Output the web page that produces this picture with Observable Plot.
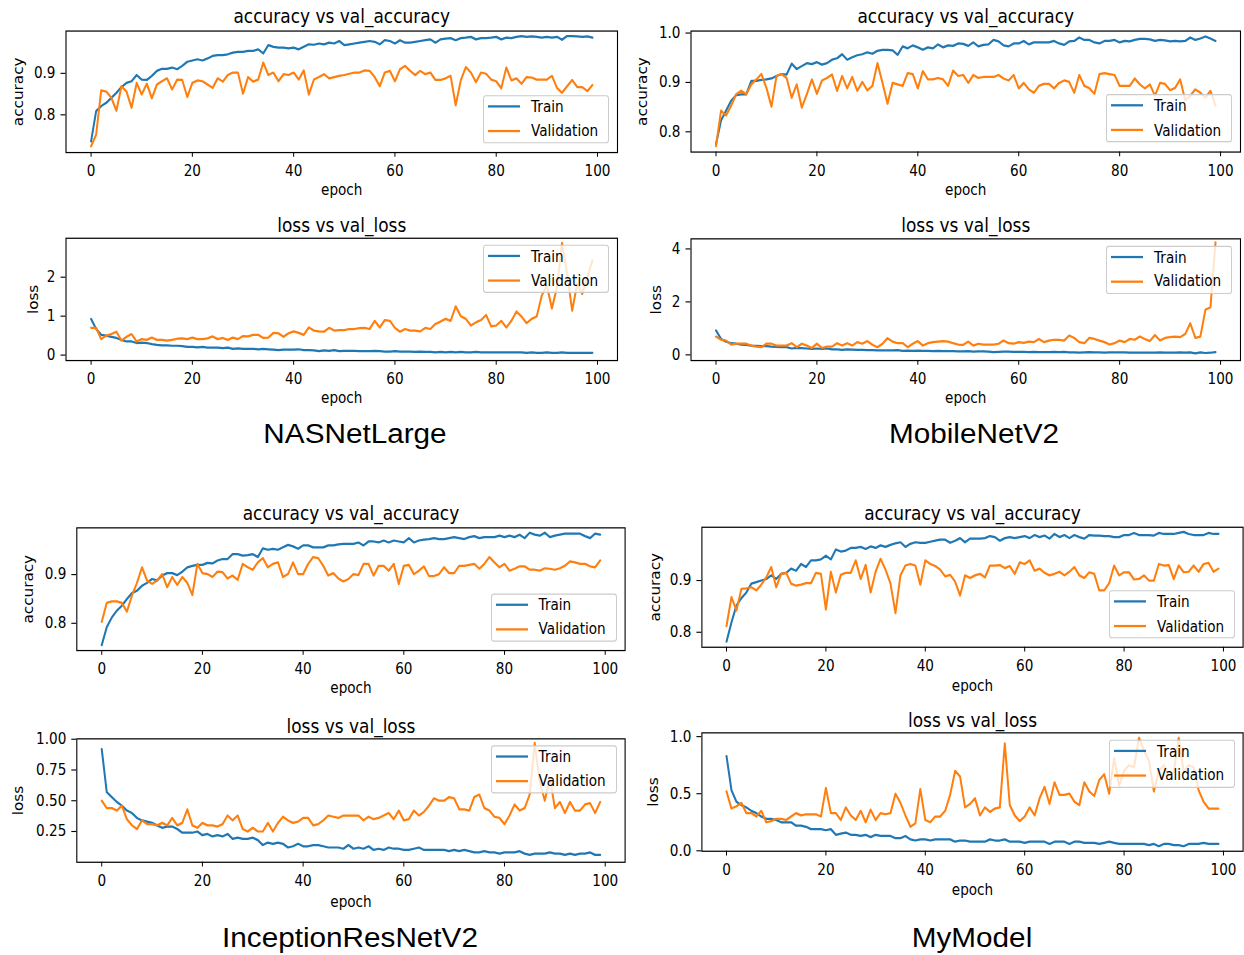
<!DOCTYPE html>
<html><head><meta charset="utf-8">
<script src="https://cdn.jsdelivr.net/npm/d3@7"></script>
<script src="https://cdn.jsdelivr.net/npm/@observablehq/plot@0.6"></script>
<style>
body{margin:0;background:#fff;width:1244px;height:955px;position:relative;overflow:hidden;font-family:"DejaVu Sans",sans-serif;}
.sub{position:absolute;}
.wrap{position:absolute;left:0;top:0;transform-origin:0 0;}
.leg{position:absolute;box-sizing:border-box;border:1px solid #cccccc;border-radius:3px;background:rgba(255,255,255,0.8);}
.leg .ln{position:absolute;}
.leg .lt{position:absolute;font-family:"DejaVu Sans";font-size:13.6px;line-height:1;color:#000;white-space:nowrap;}
.cap{position:absolute;font-family:"Liberation Sans",Arial,sans-serif;font-size:27px;color:#000;white-space:nowrap;}
</style></head><body>
<script>
// ---------------- data ----------------
const xTicks = [0, 20, 40, 60, 80, 100];
const seriesNames = ["Train", "Validation"];
const captions = ["NASNetLarge", "MobileNetV2", "InceptionResNetV2", "MyModel"];

const nasAccTrain = [0.736,0.809,0.821,0.829,0.841,0.853,0.867,0.877,0.881,0.896,
0.885,0.884,0.894,0.906,0.911,0.911,0.914,0.910,0.918,0.928,
0.931,0.934,0.931,0.936,0.942,0.944,0.944,0.946,0.950,0.952,
0.952,0.954,0.954,0.958,0.948,0.968,0.964,0.962,0.962,0.960,
0.962,0.958,0.964,0.970,0.969,0.972,0.970,0.974,0.972,0.978,
0.968,0.970,0.972,0.974,0.976,0.978,0.976,0.970,0.980,0.978,
0.972,0.980,0.974,0.974,0.976,0.978,0.980,0.982,0.974,0.982,
0.984,0.985,0.980,0.985,0.986,0.988,0.982,0.985,0.985,0.986,
0.988,0.982,0.986,0.985,0.988,0.990,0.988,0.989,0.988,0.986,
0.988,0.986,0.988,0.981,0.990,0.990,0.989,0.988,0.989,0.986];
const nasAccVal = [0.724,0.752,0.859,0.856,0.841,0.810,0.869,0.856,0.817,0.877,
0.849,0.875,0.840,0.873,0.881,0.888,0.861,0.885,0.884,0.843,
0.877,0.883,0.881,0.873,0.865,0.888,0.880,0.896,0.902,0.902,
0.851,0.891,0.880,0.885,0.926,0.896,0.902,0.881,0.898,0.896,
0.902,0.885,0.907,0.849,0.885,0.891,0.898,0.888,0.891,0.894,
0.896,0.899,0.902,0.902,0.907,0.906,0.891,0.869,0.902,0.906,
0.881,0.910,0.918,0.906,0.896,0.906,0.898,0.902,0.884,0.884,
0.888,0.894,0.823,0.883,0.915,0.902,0.879,0.902,0.899,0.885,
0.881,0.864,0.914,0.883,0.888,0.875,0.891,0.890,0.885,0.885,
0.885,0.894,0.865,0.853,0.869,0.884,0.867,0.867,0.857,0.872];
const nasLossTrain = [0.93,0.67,0.52,0.50,0.47,0.44,0.39,0.35,0.35,0.31,
0.32,0.31,0.28,0.26,0.25,0.25,0.24,0.24,0.23,0.21,
0.21,0.20,0.21,0.19,0.19,0.19,0.18,0.19,0.16,0.17,
0.16,0.16,0.16,0.15,0.16,0.15,0.14,0.13,0.14,0.14,
0.14,0.15,0.13,0.13,0.12,0.10,0.12,0.11,0.13,0.10,
0.11,0.11,0.11,0.10,0.10,0.10,0.11,0.10,0.09,0.09,
0.10,0.09,0.09,0.09,0.08,0.09,0.08,0.08,0.07,0.08,
0.07,0.08,0.07,0.08,0.07,0.07,0.08,0.07,0.07,0.07,
0.07,0.07,0.07,0.07,0.07,0.07,0.06,0.07,0.06,0.06,
0.07,0.06,0.06,0.07,0.06,0.06,0.06,0.06,0.06,0.06];
const nasLossVal = [0.70,0.70,0.41,0.50,0.54,0.60,0.37,0.47,0.54,0.35,
0.41,0.39,0.45,0.39,0.39,0.37,0.39,0.42,0.43,0.41,
0.45,0.41,0.41,0.43,0.48,0.41,0.44,0.39,0.45,0.41,
0.49,0.48,0.52,0.52,0.44,0.45,0.57,0.56,0.47,0.56,
0.61,0.57,0.52,0.71,0.63,0.61,0.60,0.70,0.63,0.64,
0.64,0.67,0.67,0.69,0.70,0.67,0.88,0.71,0.90,0.88,
0.70,0.60,0.67,0.63,0.63,0.61,0.70,0.67,0.80,0.86,
0.93,0.88,1.25,1.00,0.93,0.76,0.84,0.90,1.03,0.74,
0.76,0.88,0.71,0.88,1.12,0.99,0.82,0.93,0.99,1.53,
1.79,1.20,1.74,2.88,2.09,1.14,1.83,1.57,2.00,2.43];

const mobAccTrain = [0.775,0.823,0.843,0.863,0.874,0.876,0.876,0.903,0.903,0.905,
0.906,0.908,0.913,0.917,0.916,0.938,0.927,0.933,0.939,0.937,
0.941,0.936,0.939,0.946,0.949,0.957,0.946,0.951,0.955,0.957,
0.961,0.958,0.964,0.966,0.966,0.965,0.956,0.973,0.969,0.975,
0.971,0.966,0.971,0.969,0.977,0.971,0.975,0.974,0.979,0.978,
0.974,0.981,0.973,0.976,0.977,0.986,0.983,0.975,0.973,0.979,
0.979,0.984,0.977,0.981,0.981,0.981,0.981,0.984,0.979,0.976,
0.983,0.984,0.991,0.986,0.986,0.981,0.979,0.984,0.984,0.986,
0.981,0.984,0.983,0.986,0.988,0.988,0.987,0.984,0.986,0.985,
0.983,0.984,0.983,0.984,0.991,0.986,0.989,0.993,0.989,0.984];
const mobAccVal = [0.771,0.843,0.833,0.853,0.876,0.883,0.876,0.896,0.906,0.917,
0.889,0.851,0.913,0.917,0.909,0.869,0.896,0.849,0.876,0.906,
0.877,0.904,0.909,0.916,0.883,0.913,0.888,0.911,0.883,0.901,
0.884,0.893,0.939,0.899,0.857,0.899,0.896,0.893,0.919,0.917,
0.888,0.923,0.906,0.906,0.909,0.906,0.893,0.924,0.913,0.915,
0.899,0.915,0.909,0.911,0.911,0.911,0.915,0.908,0.904,0.915,
0.888,0.899,0.886,0.879,0.893,0.897,0.897,0.888,0.899,0.904,
0.901,0.879,0.915,0.893,0.888,0.877,0.917,0.919,0.917,0.915,
0.893,0.893,0.893,0.908,0.896,0.888,0.896,0.873,0.899,0.897,
0.884,0.889,0.906,0.864,0.873,0.886,0.879,0.869,0.883,0.853];
const mobLossTrain = [0.92,0.60,0.50,0.44,0.42,0.39,0.38,0.35,0.34,0.33,
0.33,0.31,0.30,0.29,0.29,0.24,0.26,0.25,0.24,0.23,
0.24,0.23,0.24,0.21,0.21,0.19,0.21,0.20,0.19,0.19,
0.18,0.18,0.17,0.17,0.17,0.17,0.18,0.15,0.16,0.15,
0.16,0.15,0.15,0.14,0.15,0.14,0.14,0.14,0.13,0.13,
0.14,0.12,0.13,0.13,0.12,0.10,0.11,0.12,0.12,0.11,
0.11,0.11,0.10,0.11,0.10,0.10,0.10,0.11,0.10,0.11,
0.09,0.09,0.08,0.09,0.10,0.09,0.09,0.08,0.09,0.09,
0.09,0.09,0.08,0.08,0.08,0.08,0.08,0.08,0.09,0.08,
0.08,0.08,0.09,0.08,0.09,0.06,0.09,0.07,0.08,0.10];
const mobLossVal = [0.69,0.57,0.54,0.39,0.42,0.42,0.42,0.35,0.31,0.29,
0.42,0.42,0.35,0.35,0.35,0.44,0.29,0.42,0.35,0.26,
0.42,0.26,0.31,0.31,0.44,0.35,0.44,0.35,0.48,0.42,
0.52,0.38,0.29,0.42,0.63,0.50,0.44,0.44,0.29,0.42,
0.52,0.35,0.44,0.48,0.50,0.52,0.50,0.44,0.39,0.38,
0.50,0.35,0.42,0.39,0.39,0.39,0.42,0.54,0.44,0.42,
0.48,0.45,0.50,0.48,0.60,0.48,0.54,0.57,0.57,0.54,
0.73,0.64,0.48,0.44,0.64,0.60,0.54,0.48,0.39,0.44,
0.54,0.48,0.60,0.57,0.69,0.60,0.52,0.75,0.54,0.64,
0.67,0.69,0.67,0.79,1.19,0.64,0.69,1.70,1.80,4.25];

const incAccTrain = [0.755,0.792,0.812,0.826,0.836,0.850,0.862,0.867,0.877,0.883,
0.891,0.888,0.898,0.903,0.903,0.899,0.906,0.915,0.918,0.920,
0.920,0.924,0.923,0.929,0.932,0.932,0.942,0.942,0.939,0.940,
0.942,0.936,0.954,0.951,0.953,0.951,0.956,0.961,0.958,0.953,
0.960,0.960,0.956,0.956,0.956,0.960,0.960,0.962,0.963,0.963,
0.963,0.966,0.960,0.968,0.968,0.966,0.970,0.966,0.970,0.968,
0.966,0.975,0.966,0.970,0.972,0.973,0.975,0.973,0.973,0.975,
0.977,0.975,0.973,0.977,0.979,0.975,0.977,0.977,0.977,0.980,
0.977,0.980,0.977,0.982,0.975,0.986,0.982,0.980,0.986,0.977,
0.980,0.982,0.984,0.984,0.984,0.984,0.979,0.975,0.984,0.982];
const incAccVal = [0.803,0.842,0.845,0.845,0.842,0.824,0.857,0.883,0.915,0.888,
0.881,0.888,0.901,0.874,0.895,0.879,0.895,0.883,0.858,0.922,
0.903,0.901,0.895,0.906,0.905,0.892,0.898,0.889,0.922,0.915,
0.910,0.925,0.934,0.915,0.922,0.925,0.895,0.901,0.925,0.901,
0.901,0.922,0.936,0.934,0.918,0.898,0.903,0.892,0.886,0.891,
0.901,0.899,0.922,0.922,0.898,0.918,0.918,0.908,0.922,0.881,
0.918,0.920,0.901,0.908,0.917,0.897,0.897,0.901,0.915,0.903,
0.903,0.918,0.918,0.920,0.922,0.912,0.922,0.936,0.925,0.915,
0.922,0.908,0.912,0.917,0.917,0.910,0.910,0.908,0.913,0.912,
0.910,0.913,0.918,0.927,0.925,0.922,0.922,0.917,0.915,0.929];
const incLossTrain = [0.92,0.57,0.53,0.49,0.46,0.42,0.40,0.36,0.34,0.33,
0.32,0.30,0.28,0.29,0.29,0.27,0.24,0.24,0.24,0.25,
0.22,0.23,0.21,0.22,0.21,0.23,0.19,0.20,0.19,0.19,
0.20,0.18,0.14,0.16,0.15,0.16,0.15,0.12,0.13,0.15,
0.13,0.13,0.14,0.14,0.13,0.12,0.12,0.12,0.11,0.14,
0.11,0.12,0.11,0.13,0.10,0.11,0.10,0.12,0.11,0.11,
0.10,0.10,0.11,0.12,0.10,0.10,0.10,0.10,0.10,0.09,
0.10,0.09,0.10,0.09,0.08,0.08,0.09,0.08,0.08,0.07,
0.08,0.08,0.08,0.09,0.07,0.06,0.07,0.07,0.07,0.08,
0.07,0.07,0.06,0.07,0.06,0.07,0.07,0.08,0.06,0.06];
const incLossVal = [0.50,0.44,0.44,0.42,0.46,0.35,0.30,0.27,0.34,0.31,
0.31,0.30,0.32,0.30,0.36,0.30,0.32,0.43,0.30,0.28,
0.32,0.30,0.30,0.29,0.31,0.38,0.34,0.38,0.27,0.25,
0.28,0.25,0.25,0.32,0.25,0.32,0.37,0.34,0.32,0.33,
0.36,0.36,0.30,0.31,0.34,0.38,0.37,0.36,0.38,0.38,
0.38,0.38,0.34,0.37,0.35,0.36,0.38,0.40,0.35,0.42,
0.34,0.35,0.42,0.38,0.41,0.46,0.52,0.50,0.50,0.53,
0.52,0.43,0.43,0.42,0.53,0.55,0.44,0.42,0.37,0.36,
0.31,0.38,0.47,0.42,0.44,0.55,0.97,0.65,0.50,0.69,
0.44,0.49,0.40,0.49,0.42,0.42,0.47,0.48,0.40,0.49];

const myAccTrain = [0.782,0.819,0.852,0.866,0.877,0.894,0.897,0.900,0.903,0.910,
0.903,0.913,0.915,0.923,0.919,0.932,0.926,0.939,0.939,0.941,
0.948,0.941,0.960,0.956,0.958,0.963,0.963,0.965,0.961,0.966,
0.963,0.968,0.965,0.969,0.972,0.974,0.965,0.971,0.974,0.973,
0.973,0.975,0.977,0.979,0.979,0.973,0.977,0.982,0.974,0.981,
0.981,0.981,0.982,0.986,0.984,0.977,0.982,0.984,0.982,0.984,
0.986,0.982,0.988,0.984,0.987,0.981,0.990,0.984,0.988,0.982,
0.988,0.984,0.981,0.988,0.987,0.987,0.986,0.986,0.984,0.984,
0.988,0.988,0.992,0.988,0.988,0.988,0.987,0.992,0.990,0.990,
0.990,0.992,0.994,0.990,0.988,0.988,0.988,0.992,0.990,0.990];
const myAccVal = [0.812,0.868,0.842,0.884,0.885,0.887,0.881,0.892,0.906,0.926,
0.887,0.913,0.915,0.894,0.890,0.892,0.895,0.895,0.915,0.913,
0.844,0.917,0.877,0.911,0.915,0.915,0.939,0.903,0.930,0.877,
0.917,0.942,0.921,0.894,0.837,0.910,0.929,0.932,0.929,0.892,
0.939,0.932,0.928,0.921,0.908,0.911,0.898,0.871,0.910,0.905,
0.910,0.913,0.906,0.929,0.929,0.930,0.924,0.928,0.913,0.935,
0.932,0.939,0.919,0.923,0.915,0.910,0.913,0.917,0.910,0.917,
0.926,0.910,0.905,0.916,0.913,0.881,0.881,0.895,0.929,0.910,
0.916,0.916,0.902,0.903,0.910,0.900,0.900,0.932,0.929,0.930,
0.903,0.929,0.916,0.917,0.929,0.917,0.932,0.934,0.917,0.923];
const myLossTrain = [0.83,0.53,0.43,0.40,0.38,0.35,0.33,0.30,0.28,0.28,
0.27,0.25,0.25,0.25,0.22,0.22,0.21,0.19,0.19,0.19,
0.18,0.19,0.14,0.15,0.16,0.14,0.14,0.13,0.14,0.12,
0.14,0.13,0.13,0.13,0.11,0.11,0.13,0.10,0.09,0.10,
0.10,0.09,0.10,0.10,0.10,0.10,0.08,0.09,0.09,0.08,
0.08,0.08,0.08,0.10,0.09,0.09,0.10,0.08,0.08,0.08,
0.07,0.08,0.08,0.08,0.08,0.06,0.08,0.08,0.08,0.06,
0.08,0.08,0.07,0.07,0.07,0.06,0.07,0.08,0.07,0.06,
0.06,0.06,0.06,0.06,0.06,0.05,0.06,0.04,0.06,0.06,
0.05,0.05,0.04,0.06,0.06,0.06,0.07,0.06,0.06,0.06];
const myLossVal = [0.52,0.37,0.39,0.42,0.33,0.33,0.30,0.35,0.25,0.26,
0.28,0.28,0.27,0.30,0.33,0.31,0.32,0.32,0.32,0.30,
0.55,0.33,0.33,0.27,0.38,0.31,0.27,0.35,0.25,0.36,
0.27,0.33,0.32,0.33,0.50,0.42,0.31,0.21,0.24,0.54,
0.27,0.25,0.30,0.30,0.35,0.49,0.70,0.65,0.38,0.41,
0.46,0.31,0.38,0.34,0.37,0.38,0.94,0.40,0.31,0.26,
0.30,0.38,0.31,0.46,0.56,0.41,0.60,0.49,0.49,0.50,
0.43,0.40,0.60,0.52,0.48,0.62,0.67,0.50,0.81,0.57,
0.70,0.75,0.73,0.99,0.88,0.79,0.52,0.70,0.75,0.66,
0.69,0.99,0.69,0.75,0.73,0.53,0.43,0.37,0.37,0.37];

// ---------------- drawing ----------------
const S = 1.12; // vertical stretch of the source figures
const BLUE = "#1f77b4", ORANGE = "#ff7f0e";

function sub(o) {
  const W = o.cw, H = o.ch / S;
  const data = o.train.map((t, i) => ({epoch: i, train: t, val: o.val[i]}));
  const svg = Plot.plot({
    width: W, height: H,
    marginLeft: o.fl - o.cx, marginRight: o.cx + o.cw - o.fr,
    marginTop: (o.ft - o.cy) / S, marginBottom: (o.cy + o.ch - o.fb) / S,
    style: {fontFamily: "DejaVu Sans", fontSize: "13.6px", color: "#000", background: "transparent", overflow: "visible"},
    x: {domain: [-4.95, 103.95], ticks: xTicks, tickSize: 4.3, tickPadding: 7.3, label: null},
    y: {domain: o.ydom, ticks: o.yticks, tickFormat: d3.format(o.yfmt), tickSize: 5, tickPadding: 5.5, label: null},
    marks: [
      Plot.line(data, {x: "epoch", y: "train", stroke: BLUE, strokeWidth: 2, strokeLinejoin: "round"}),
      Plot.line(data, {x: "epoch", y: "val", stroke: ORANGE, strokeWidth: 2, strokeLinejoin: "round"}),
      Plot.frame({stroke: "#000", strokeWidth: 1.1}),
      Plot.text([o.title], {text: d => d, frameAnchor: "top", dy: (o.titleY - o.ft) / S, fontSize: 17, lineAnchor: "middle", textAnchor: "middle", fill: "#000"}),
      Plot.text(["epoch"], {text: d => d, frameAnchor: "bottom", dy: (o.epochY - o.fb) / S, lineAnchor: "middle", textAnchor: "middle", fill: "#000"}),
      Plot.text([o.ylabel], {text: d => d, frameAnchor: "left", dx: o.ylabelX - o.fl, rotate: -90, lineAnchor: "middle", textAnchor: "middle", fill: "#000"})
    ]
  });
  const box = document.createElement("div");
  box.className = "sub";
  box.style.left = o.cx + "px"; box.style.top = o.cy + "px";
  box.style.width = W + "px"; box.style.height = o.ch + "px";
  const wrap = document.createElement("div");
  wrap.className = "wrap";
  wrap.style.width = W + "px"; wrap.style.height = H + "px";
  wrap.style.transform = `scaleY(${S})`;
  wrap.appendChild(svg);
  // legend
  const LW = 126, LH = 48;
  const lleft = o.leg.right - LW;
  const ltop = o.leg.top !== undefined ? o.leg.top : o.leg.bottom - LH;
  const leg = document.createElement("div");
  leg.className = "leg";
  leg.style.left = (lleft - o.cx) + "px";
  leg.style.top = ((ltop - o.cy) / S) + "px";
  leg.style.width = LW + "px"; leg.style.height = (LH / S) + "px";
  [[seriesNames[0], BLUE, 11.7], [seriesNames[1], ORANGE, 35.7]].forEach(([t, c, y]) => {
    const ln = document.createElement("div");
    ln.className = "ln";
    ln.style.left = "4px"; ln.style.width = "32px";
    ln.style.top = Math.round(y / S - 2) + "px"; ln.style.height = "2px";
    ln.style.background = c;
    leg.appendChild(ln);
    const tx = document.createElement("div");
    tx.className = "lt";
    tx.textContent = t;
    tx.style.left = "47px";
    tx.style.top = (y / S - 1 - 6.6) + "px";
    leg.appendChild(tx);
  });
  wrap.appendChild(leg);
  box.appendChild(wrap);
  document.body.appendChild(box);
}

const ACC = "accuracy vs val_accuracy", LOSS = "loss vs val_loss";
sub({cx: 0, cy: 0, cw: 622, ch: 205, fl: 65.5, fr: 617, ft: 30.5, fb: 152, ydom: [0.709, 1.002], yticks: [0.8, 0.9], yfmt: ".1f",
  title: ACC, titleY: 16, ylabel: "accuracy", ylabelX: 18, epochY: 190, train: nasAccTrain, val: nasAccVal, leg: {right: 609, bottom: 143}});
sub({cx: 622, cy: 0, cw: 622, ch: 205, fl: 690.5, fr: 1240, ft: 30.5, fb: 151.5, ydom: [0.759, 1.004], yticks: [0.8, 0.9, 1.0], yfmt: ".1f",
  title: ACC, titleY: 16.5, ylabel: "accuracy", ylabelX: 642, epochY: 190, train: mobAccTrain, val: mobAccVal, leg: {right: 1232, bottom: 142.5}});
sub({cx: 0, cy: 210, cw: 622, ch: 200, fl: 65.5, fr: 617, ft: 237.7, fb: 360, ydom: [-0.14, 3.0], yticks: [0, 1, 2], yfmt: "d",
  title: LOSS, titleY: 225, ylabel: "loss", ylabelX: 33.5, epochY: 398, train: nasLossTrain, val: nasLossVal, leg: {right: 609, top: 245}});
sub({cx: 622, cy: 210, cw: 622, ch: 200, fl: 690.5, fr: 1240, ft: 238.3, fb: 360, ydom: [-0.215, 4.38], yticks: [0, 2, 4], yfmt: "d",
  title: LOSS, titleY: 225, ylabel: "loss", ylabelX: 656, epochY: 398, train: mobLossTrain, val: mobLossVal, leg: {right: 1232, top: 245.5}});
sub({cx: 0, cy: 495, cw: 632, ch: 205, fl: 76.3, fr: 624.6, ft: 527.3, fb: 650, ydom: [0.744, 0.996], yticks: [0.8, 0.9], yfmt: ".1f",
  title: ACC, titleY: 513, ylabel: "accuracy", ylabelX: 28, epochY: 688, train: incAccTrain, val: incAccVal, leg: {right: 616.6, bottom: 641.5}});
sub({cx: 632, cy: 495, cw: 612, ch: 205, fl: 701.4, fr: 1242.6, ft: 526.7, fb: 646.7, ydom: [0.771, 1.003], yticks: [0.8, 0.9], yfmt: ".1f",
  title: ACC, titleY: 513, ylabel: "accuracy", ylabelX: 655.5, epochY: 686, train: myAccTrain, val: myAccVal, leg: {right: 1235, bottom: 638.5}});
sub({cx: 0, cy: 705, cw: 632, ch: 210, fl: 76.3, fr: 624.6, ft: 738.3, fb: 861.7, ydom: [0.0, 1.003], yticks: [0.25, 0.5, 0.75, 1.0], yfmt: ".2f",
  title: LOSS, titleY: 726.5, ylabel: "loss", ylabelX: 18, epochY: 901.5, train: incLossTrain, val: incLossVal, leg: {right: 616.6, top: 745.5}});
sub({cx: 632, cy: 705, cw: 612, ch: 205, fl: 701.4, fr: 1242.6, ft: 732.3, fb: 850.7, ydom: [-0.004, 1.033], yticks: [0, 0.5, 1.0], yfmt: ".1f",
  title: LOSS, titleY: 720, ylabel: "loss", ylabelX: 653.5, epochY: 890, train: myLossTrain, val: myLossVal, leg: {right: 1235, top: 739.5}});

// captions
[[captions[0], 355, 434], [captions[1], 974, 434], [captions[2], 350, 938], [captions[3], 972, 938]].forEach(([t, x, y]) => {
  const d = document.createElement("div");
  d.className = "cap";
  d.textContent = t;
  d.style.left = x + "px"; d.style.top = y + "px";
  d.style.transform = "translate(-50%,-50%) scaleX(1.1)";
  document.body.appendChild(d);
});
</script>
</body></html>
